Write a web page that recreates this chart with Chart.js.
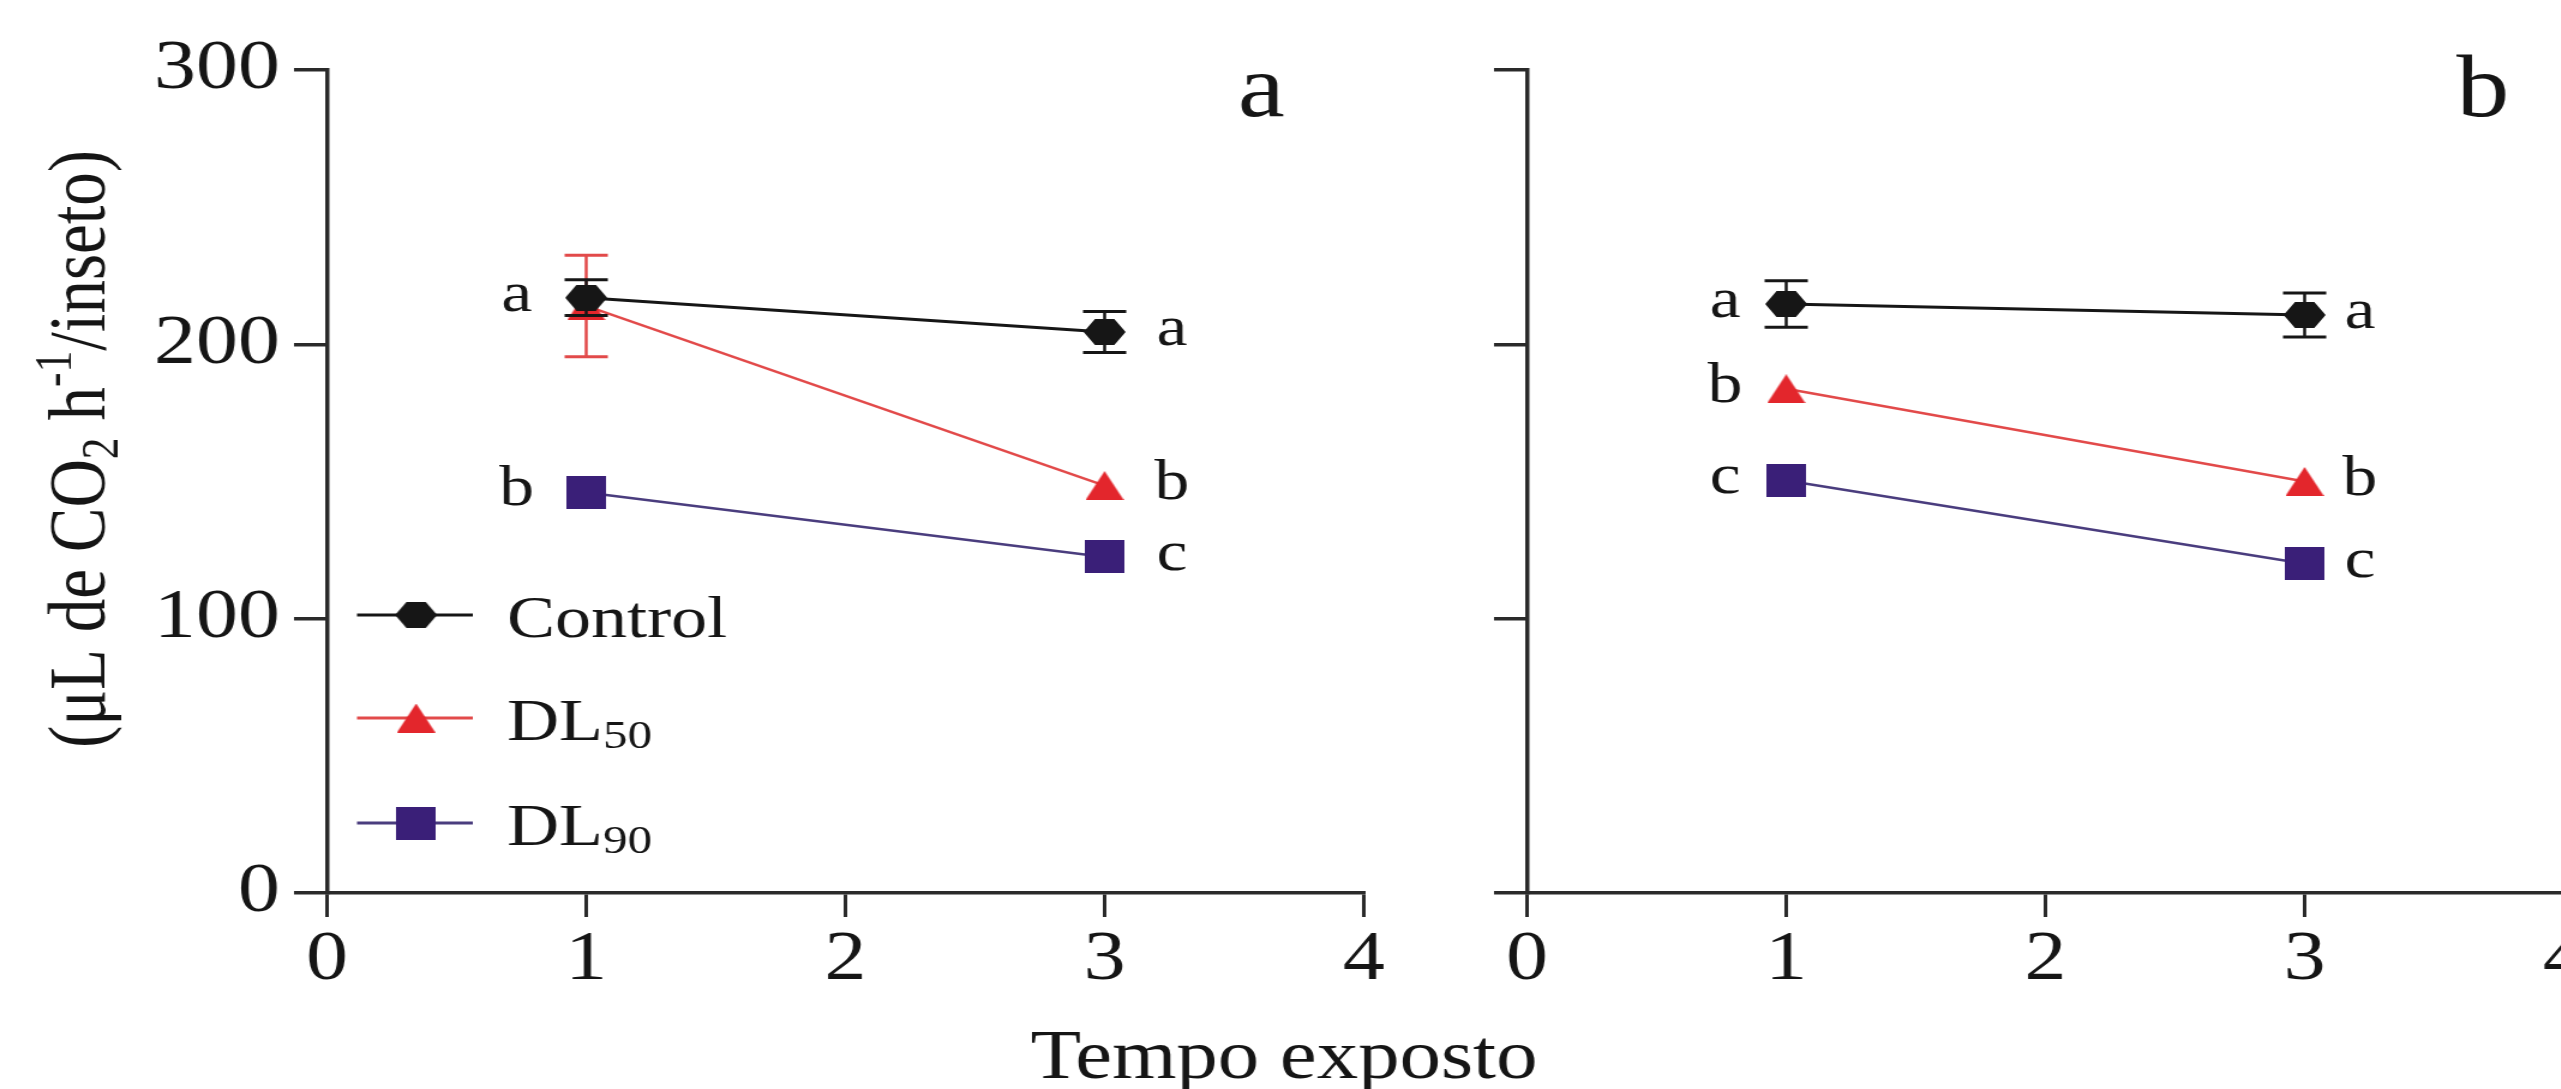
<!DOCTYPE html>
<html>
<head>
<meta charset="utf-8">
<script src="https://cdn.jsdelivr.net/npm/chart.js@4.4.1/dist/chart.umd.min.js"></script>
<style>
  html, body { margin: 0; padding: 0; background: #ffffff; overflow: hidden; width: 2561px; height: 1089px; }
  canvas { position: absolute; top: 0; }
</style>
</head>
<body>
<canvas id="chartA" width="1400" height="1089" style="left:0px;width:1680px;height:1089px;"></canvas>
<canvas id="chartB" width="1200" height="1089" style="left:1200px;width:1440px;height:1089px;"></canvas>
<script>
// ---------------- DATA ----------------
const timeValues = [1, 3];
const xTickValues = [0, 1, 2, 3, 4];
const yTickValues = [0, 100, 200, 300];
const seriesNames = ['Control', 'DL', 'DL'];
const seriesSubscripts = ['', '50', '90'];
const panelLabels = ['a', 'b'];
const xAxisTitle = 'Tempo exposto';
const yAxisTitleParts = ['(\u03BCL de CO', '2', ' h', '-1', '/inseto)'];

// Panel a
const controlA = [217, 204.5];
const controlAErr = [6.5, 7.5];
const dl50A = [214, 148.5];
const dl50AErr = [18.5, 0];
const dl90A = [146, 122.5];
const dl90AErr = [0, 0];
const lettersControlA = ['a', 'a'];
const lettersDl50A = ['', 'b'];
const lettersDl90A = ['b', 'c'];

// Panel b
const controlB = [214.7, 210.7];
const controlBErr = [8.5, 8];
const dl50B = [183.8, 150];
const dl50BErr = [0, 0];
const dl90B = [150.4, 120];
const dl90BErr = [0, 0];
const lettersControlB = ['a', 'a'];
const lettersDl50B = ['b', 'b'];
const lettersDl90B = ['c', 'c'];

// ---------------- STYLE ----------------
const FONT = '"Liberation Serif", "Times New Roman", "DejaVu Serif", serif';
const TEXT = '#151515';
const AXIS = '#2a2a2a';
const colControl = '#161616';
const colDl50Marker = '#e3262c';
const colDl50Line = '#e24a4a';
const colDl90Marker = '#3a1f78';
const colDl90Line = '#4a3d7e';

function makeMarker(shape, color, w, h) {
  const c = document.createElement('canvas');
  c.width = w; c.height = h;
  const g = c.getContext('2d');
  g.fillStyle = color;
  g.beginPath();
  if (shape === 'hex') {
    g.moveTo(0, h / 2); g.lineTo(w * 0.27, 0); g.lineTo(w * 0.73, 0);
    g.lineTo(w, h / 2); g.lineTo(w * 0.73, h); g.lineTo(w * 0.27, h);
  } else if (shape === 'tri') {
    g.moveTo(w / 2, 0); g.lineTo(w, h); g.lineTo(0, h);
  } else {
    g.rect(0, 0, w, h);
  }
  g.closePath();
  g.fill();
  return c;
}
const hexMarker = makeMarker('hex', colControl, 35, 26);
const triMarker = makeMarker('tri', colDl50Marker, 32, 29);
const sqMarker = makeMarker('sq', colDl90Marker, 33, 33);

function pts(vals) { return timeValues.map((x, i) => ({ x: x, y: vals[i] })); }

function makeDatasets(c, cE, d5, d5E, d9, d9E, lc, l5, l9) {
  return [
    { label: seriesNames[0], data: pts(c), errors: cE, letters: lc, borderColor: colControl, errorColor: colControl,
      borderWidth: 3, pointStyle: hexMarker, pointRadius: 14, showLine: true, tension: 0, fill: false },
    { label: seriesNames[1] + seriesSubscripts[1], data: pts(d5), errors: d5E, letters: l5, borderColor: colDl50Line, errorColor: colDl50Line,
      borderWidth: 2.5, pointStyle: triMarker, pointRadius: 14, showLine: true, tension: 0, fill: false },
    { label: seriesNames[2] + seriesSubscripts[2], data: pts(d9), errors: d9E, letters: l9, borderColor: colDl90Line, errorColor: colDl90Line,
      borderWidth: 2.5, pointStyle: sqMarker, pointRadius: 14, showLine: true, tension: 0, fill: false }
  ];
}

// ---------------- PLUGINS ----------------
const errorBarPlugin = {
  id: 'errorBars',
  beforeDatasetDraw(chart, args, opts) {
    const ds = chart.data.datasets[args.index];
    if (!ds.errors) return;
    const ctx = chart.ctx, ys = chart.scales.y;
    ctx.save();
    ctx.strokeStyle = ds.errorColor;
    args.meta.data.forEach((el, i) => {
      const e = ds.errors[i];
      if (!e) return;
      const v = ds.data[i].y;
      const x = el.x;
      const yt = ys.getPixelForValue(v + e), yb = ys.getPixelForValue(v - e);
      ctx.lineWidth = opts.stemWidth;
      ctx.beginPath(); ctx.moveTo(x, yt); ctx.lineTo(x, yb); ctx.stroke();
      ctx.lineWidth = opts.capWidth;
      ctx.beginPath();
      ctx.moveTo(x - opts.capHalf, yt); ctx.lineTo(x + opts.capHalf, yt);
      ctx.moveTo(x - opts.capHalf, yb); ctx.lineTo(x + opts.capHalf, yb);
      ctx.stroke();
    });
    ctx.restore();
  }
};

const lettersPlugin = {
  id: 'letters',
  afterDatasetsDraw(chart, args, opts) {
    const ctx = chart.ctx;
    ctx.save();
    ctx.font = opts.size + 'px ' + FONT;
    ctx.fillStyle = TEXT;
    ctx.textAlign = 'center';
    ctx.textBaseline = 'alphabetic';
    const xh = ctx.measureText('x').actualBoundingBoxAscent;
    chart.data.datasets.forEach((ds, di) => {
      const meta = chart.getDatasetMeta(di);
      (ds.letters || []).forEach((L, i) => {
        if (!L) return;
        const el = meta.data[i];
        const off = ds.data[i].x < 2 ? opts.leftOffset : opts.rightOffset;
        ctx.fillText(L, el.x + off, el.y + xh / 2);
      });
    });
    ctx.restore();
  }
};

function measureSegments(ctx, segs, baseSize) {
  let w = 0;
  segs.forEach(s => { ctx.font = (baseSize * s.scale) + 'px ' + FONT; w += ctx.measureText(s.text).width; });
  return w;
}

const decorPlugin = {
  id: 'decor',
  afterDraw(chart, args, opts) {
    const ctx = chart.ctx;
    ctx.save();
    ctx.fillStyle = TEXT;
    ctx.textBaseline = 'alphabetic';
    if (opts.panel) {
      ctx.font = opts.panel.size + 'px ' + FONT;
      ctx.textAlign = 'center';
      ctx.fillText(opts.panel.text, opts.panel.x, opts.panel.y);
    }
    if (opts.xTitle) {
      ctx.font = opts.xTitle.size + 'px ' + FONT;
      ctx.textAlign = 'center';
      ctx.fillText(opts.xTitle.text, opts.xTitle.x, opts.xTitle.y);
    }
    if (opts.yTitle) {
      const t = opts.yTitle;
      const segs = [
        { text: yAxisTitleParts[0], scale: 1, dy: 0 },
        { text: yAxisTitleParts[1], scale: 0.65, dy: 0.17 },
        { text: yAxisTitleParts[2], scale: 1, dy: 0 },
        { text: yAxisTitleParts[3], scale: 0.65, dy: -0.42 },
        { text: yAxisTitleParts[4], scale: 1, dy: 0 }
      ];
      const total = measureSegments(ctx, segs, t.size);
      ctx.save();
      ctx.translate(t.x, t.y);
      ctx.rotate(-Math.PI / 2);
      ctx.textAlign = 'left';
      let x = -total / 2;
      segs.forEach(s => {
        ctx.font = (t.size * s.scale) + 'px ' + FONT;
        ctx.fillText(s.text, x, s.dy * t.size);
        x += ctx.measureText(s.text).width;
      });
      ctx.restore();
    }
    if (opts.legend) {
      const L = opts.legend;
      chart.data.datasets.forEach((ds, i) => {
        const y = L.rows[i];
        ctx.strokeStyle = ds.borderColor;
        ctx.lineWidth = 3;
        ctx.beginPath(); ctx.moveTo(L.lineX0, y); ctx.lineTo(L.lineX1, y); ctx.stroke();
        const m = ds.pointStyle;
        ctx.drawImage(m, L.markerX - m.width / 2, y - m.height / 2);
        ctx.textAlign = 'left';
        ctx.font = L.size + 'px ' + FONT;
        ctx.fillText(seriesNames[i], L.textX, y + L.baseOff);
        const w = ctx.measureText(seriesNames[i]).width;
        if (seriesSubscripts[i]) {
          ctx.font = (L.size * 0.68) + 'px ' + FONT;
          ctx.fillText(seriesSubscripts[i], L.textX + w, y + L.baseOff + L.subOff);
        }
      });
    }
    ctx.restore();
  }
};

function makeOptions(showYLabels, padRight, pluginOpts) {
  const tickFont = { family: FONT, size: 70 };
  return {
    responsive: false,
    animation: false,
    events: [],
    layout: { padding: { left: 0, right: padRight, top: 70, bottom: 0 } },
    plugins: Object.assign({ legend: { display: false }, tooltip: { enabled: false } }, pluginOpts),
    scales: {
      x: {
        type: 'linear', min: 0, max: 4,
        afterBuildTicks: s => { s.ticks = xTickValues.map(v => ({ value: v })); },
        ticks: { font: tickFont, color: TEXT, padding: 2, maxRotation: 0, autoSkip: false },
        grid: { drawOnChartArea: false, drawTicks: true, tickLength: 24, color: AXIS, lineWidth: 3 },
        border: { display: true, color: AXIS, width: 3.5 },
        afterFit: s => { s.height = 196; }
      },
      y: {
        type: 'linear', min: 0, max: 300,
        afterBuildTicks: s => { s.ticks = yTickValues.map(v => ({ value: v })); },
        ticks: { display: showYLabels, font: tickFont, color: TEXT, padding: 11.7 },
        grid: { drawOnChartArea: false, drawTicks: true, tickLength: 27.5, color: AXIS, lineWidth: 3.5 },
        border: { display: true, color: AXIS, width: 3.5 },
        afterFit: s => { s.width = 272.5; }
      }
    }
  };
}

new Chart(document.getElementById('chartA'), {
  type: 'line',
  data: { datasets: makeDatasets(controlA, controlAErr, dl50A, dl50AErr, dl90A, dl90AErr, lettersControlA, lettersDl50A, lettersDl90A) },
  options: makeOptions(true, 263.5, {
    errorBars: { stemWidth: 2.5, capWidth: 3, capHalf: 18 },
    letters: { size: 58, leftOffset: -58, rightOffset: 56 },
    decor: {
      panel: { text: panelLabels[0], size: 88, x: 1051, y: 116 },
      yTitle: { size: 67, x: 87, y: 449 },
      xTitle: { text: xAxisTitle, size: 69, x: 1070, y: 1078 },
      legend: { rows: [615, 718, 823], lineX0: 297.5, lineX1: 394, markerX: 346.7, textX: 422.5, size: 60, baseOff: 22, subOff: 8 }
    }
  }),
  plugins: [errorBarPlugin, lettersPlugin, decorPlugin]
});

new Chart(document.getElementById('chartB'), {
  type: 'line',
  data: { datasets: makeDatasets(controlB, controlBErr, dl50B, dl50BErr, dl90B, dl90BErr, lettersControlB, lettersDl50B, lettersDl90B) },
  options: makeOptions(false, 63.5, {
    errorBars: { stemWidth: 2.5, capWidth: 3, capHalf: 18 },
    letters: { size: 58, leftOffset: -51, rightOffset: 46 },
    decor: {
      panel: { text: panelLabels[1], size: 88, x: 1069, y: 116 }
    }
  }),
  plugins: [errorBarPlugin, lettersPlugin, decorPlugin]
});
</script>
</body>
</html>
